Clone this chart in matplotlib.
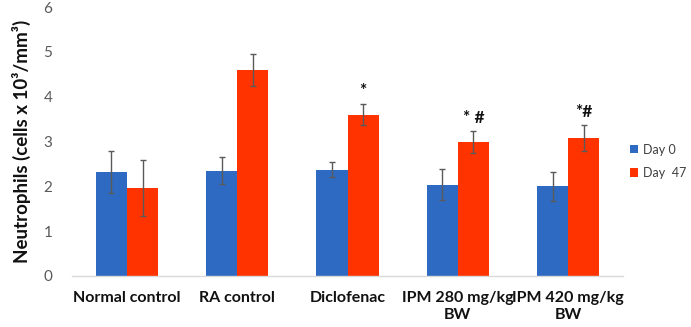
import matplotlib
matplotlib.use("Agg")
import matplotlib.pyplot as plt
from matplotlib.patches import Patch
import numpy as np

categories = ["Normal control", "RA control", "Diclofenac", "IPM 280 mg/kg\nBW", "IPM 420 mg/kg\nBW"]
day0 = [2.32, 2.35, 2.37, 2.04, 2.00]
day0_err = [0.46, 0.30, 0.17, 0.34, 0.32]
day47 = [1.96, 4.60, 3.60, 2.99, 3.08]
day47_err = [0.62, 0.35, 0.23, 0.24, 0.28]
annotations = ["", "", "*", "* #", "*#"]
series_names = ["Day 0", "Day  47"]

plt.rcParams['font.family'] = ['Lato', 'DejaVu Sans']

fig = plt.figure(figsize=(6.91, 3.27), dpi=100)
ax = fig.add_axes([0.104, 0.156, 0.798, 0.822])

x = np.arange(len(categories))
w = 0.282
blue = "#2E6AC1"
red = "#FF3300"
ekw = dict(ecolor="#5a5a5a", elinewidth=1.0, capsize=2, capthick=1.0)
ax.bar(x - w/2, day0, w, color=blue, yerr=day0_err, error_kw=ekw)
ax.bar(x + w/2, day47, w, color=red, yerr=day47_err, error_kw=ekw)

for i, a in enumerate(annotations):
    if a:
        ax.text(x[i] + w/2, day47[i] + day47_err[i] + 0.12, a, ha="center", va="bottom",
                fontsize=12.5, fontweight="bold", color="#111111")

ax.set_xlim(-0.5, len(categories) - 0.5)
ax.set_ylim(0, 6)
ax.set_yticks(range(0, 7))
ax.tick_params(axis="y", length=0, pad=14, labelsize=11, labelcolor="#595959")
ax.tick_params(axis="x", length=0, pad=11)
ax.set_xticks(x)
ax.set_xticklabels(categories, fontsize=11.5, fontweight="bold", color="#111111", linespacing=1.25)
for s in ["top", "right", "left"]:
    ax.spines[s].set_visible(False)
ax.spines["bottom"].set_color("#d9d9d9")
ax.spines["bottom"].set_linewidth(1)

ax.set_ylabel("Neutrophils (cells x 10³/mm³)", fontsize=13.5, fontweight="bold",
              color="#111111", labelpad=9)

handles = [Patch(facecolor=blue), Patch(facecolor=red)]
leg = fig.legend(handles=handles, labels=series_names, loc="center left",
                 bbox_to_anchor=(0.911, 0.507), frameon=False, fontsize=9,
                 handlelength=0.65, handleheight=0.65, handletextpad=0.4, labelspacing=0.9,
                 borderpad=0, borderaxespad=0)
for t in leg.get_texts():
    t.set_color("#404040")

fig.savefig("out.png", dpi=100)
